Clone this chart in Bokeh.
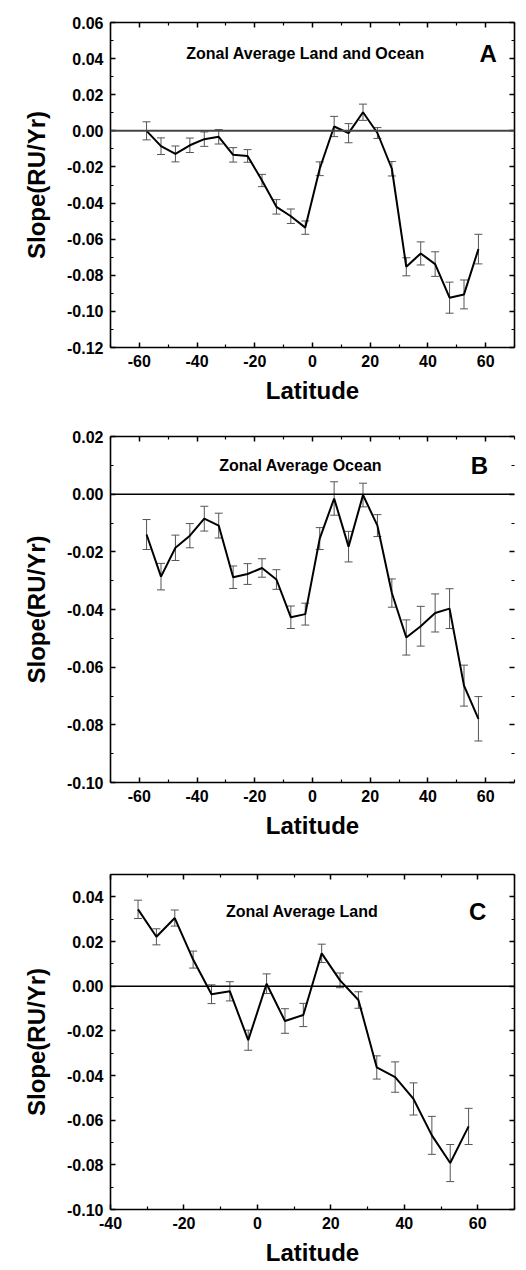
from bokeh.plotting import figure
from bokeh.models import (ColumnDataSource, Whisker, TeeHead, Span, Label,
                          LinearAxis, FixedTicker, NumeralTickFormatter, Range1d)
from bokeh.layouts import column
from bokeh.embed import file_html
from bokeh.resources import INLINE

# ---- data: zonal-mean slope (RU/yr) with its standard error, 5-degree bands ----
lat_all = [-57.5, -52.5, -47.5, -42.5, -37.5, -32.5, -27.5, -22.5, -17.5, -12.5,
           -7.5, -2.5, 2.5, 7.5, 12.5, 17.5, 22.5, 27.5, 32.5, 37.5, 42.5, 47.5,
           52.5, 57.5]

slope_land_ocean = [0.000, -0.0085, -0.0128, -0.0080, -0.0046, -0.0033, -0.0133,
                    -0.0139, -0.0275, -0.0421, -0.0473, -0.0536, -0.0210, 0.0024,
                    -0.0013, 0.0103, -0.0012, -0.0210, -0.0753, -0.0679, -0.0738,
                    -0.0924, -0.0906, -0.0655]
err_land_ocean = [0.0050, 0.0046, 0.0044, 0.0040, 0.0040, 0.0040, 0.0040, 0.0035,
                  0.0034, 0.0040, 0.0040, 0.0037, 0.0038, 0.0056, 0.0053, 0.0045,
                  0.0030, 0.0040, 0.0050, 0.0064, 0.0068, 0.0086, 0.0080, 0.0082]

slope_ocean = [-0.0140, -0.0286, -0.0186, -0.0144, -0.0085, -0.0109, -0.0288, -0.0277,
               -0.0256, -0.0296, -0.0427, -0.0416, -0.0154, -0.0015, -0.0182, -0.0003,
               -0.0109, -0.0343, -0.0497, -0.0458, -0.0412, -0.0397, -0.0664, -0.0779]
err_ocean = [0.0052, 0.0046, 0.0044, 0.0042, 0.0043, 0.0043, 0.0039, 0.0036, 0.0032,
             0.0034, 0.0039, 0.0038, 0.0038, 0.0058, 0.0053, 0.0041, 0.0038, 0.0049,
             0.0061, 0.0069, 0.0066, 0.0069, 0.0071, 0.0077]

lat_land = [-32.5, -27.5, -22.5, -17.5, -12.5, -7.5, -2.5, 2.5, 7.5, 12.5, 17.5,
            22.5, 27.5, 32.5, 37.5, 42.5, 47.5, 52.5, 57.5]
slope_land = [0.0344, 0.0221, 0.0305, 0.0119, -0.0036, -0.0023, -0.0242, 0.0011,
              -0.0156, -0.0129, 0.0147, 0.0026, -0.0062, -0.0364, -0.0407, -0.0505,
              -0.0668, -0.0792, -0.0628]
err_land = [0.0041, 0.0036, 0.0036, 0.0038, 0.0042, 0.0043, 0.0045, 0.0044, 0.0055,
            0.0052, 0.0041, 0.0033, 0.0037, 0.0052, 0.0068, 0.0072, 0.0085, 0.0083,
            0.0081]

# ---- tick positions ----
xticks_wide = [-60, -40, -20, 0, 20, 40, 60]
xminor_wide = [-70, -50, -30, -10, 10, 30, 50, 70]
xticks_land = [-40, -20, 0, 20, 40, 60]
xminor_land = [-30, -10, 10, 30, 50, 70]
yticks_a = [-0.12, -0.10, -0.08, -0.06, -0.04, -0.02, 0.0, 0.02, 0.04, 0.06]
yminor_a = [-0.11, -0.09, -0.07, -0.05, -0.03, -0.01, 0.01, 0.03, 0.05]
yticks_b = [-0.10, -0.08, -0.06, -0.04, -0.02, 0.0, 0.02]
yminor_b = [-0.09, -0.07, -0.05, -0.03, -0.01, 0.01]
yticks_c = [-0.10, -0.08, -0.06, -0.04, -0.02, 0.0, 0.02, 0.04]
yminor_c = [-0.09, -0.07, -0.05, -0.03, -0.01, 0.01, 0.03, 0.05]

FONT = "Liberation Sans"
BAR = "#555555"


def style_axis(ax, major, minor, fmt, labels=True, line=True):
    ax.ticker = FixedTicker(ticks=major, minor_ticks=minor)
    ax.formatter = fmt
    ax.axis_line_width = 1.6
    ax.axis_line_color = "black" if line else None
    ax.major_tick_in = 5
    ax.major_tick_out = 0
    ax.minor_tick_in = 3
    ax.minor_tick_out = 0
    ax.major_tick_line_width = 1.5
    ax.minor_tick_line_width = 1.2
    ax.major_label_text_font = FONT
    ax.major_label_text_font_style = "bold"
    if labels:
        ax.major_label_text_color = "black"
        ax.major_label_text_font_size = "16px"
        ax.major_label_standoff = 7
    else:
        # mirror axis: tick marks only, no numbers
        ax.major_label_text_color = None
        ax.major_label_text_font_size = "1px"
        ax.major_label_standoff = 0


def panel(lat, slope, err, xr, yr, xt, xm, yt, ym, height, borders,
          title, title_xy, letter, letter_xy, zero_color, zero_width,
          right_line=True):
    top, bottom, left, right = borders
    p = figure(width=526, height=height, x_range=Range1d(*xr), y_range=Range1d(*yr),
               output_backend="svg", toolbar_location=None,
               min_border_top=top, min_border_bottom=bottom,
               min_border_left=left, min_border_right=right)
    p.outline_line_color = None
    p.grid.visible = False

    style_axis(p.xaxis[0], xt, xm, NumeralTickFormatter(format="0"))
    style_axis(p.yaxis[0], yt, ym, NumeralTickFormatter(format="0.00"))
    p.xaxis[0].axis_label = "Latitude"
    p.yaxis[0].axis_label = "Slope(RU/Yr)"
    for ax, stand in ((p.xaxis[0], 7), (p.yaxis[0], 14)):
        ax.axis_label_text_font = FONT
        ax.axis_label_text_font_style = "bold"
        ax.axis_label_text_font_size = "24px"
        ax.axis_label_text_color = "black"
        ax.axis_label_standoff = stand

    top_ax = LinearAxis()
    style_axis(top_ax, xt, xm, NumeralTickFormatter(format="0"), labels=False)
    p.add_layout(top_ax, "above")
    right_ax = LinearAxis()
    style_axis(right_ax, yt, ym, NumeralTickFormatter(format="0.00"),
               labels=False, line=right_line)
    p.add_layout(right_ax, "right")

    p.add_layout(Span(location=0, dimension="width",
                      line_color=zero_color, line_width=zero_width))

    src = ColumnDataSource(dict(
        lat=lat, slope=slope,
        upper=[s + e for s, e in zip(slope, err)],
        lower=[s - e for s, e in zip(slope, err)]))
    p.add_layout(Whisker(source=src, base="lat", upper="upper", lower="lower",
                         line_color=BAR, line_width=1,
                         upper_head=TeeHead(size=8, line_color=BAR, line_width=1),
                         lower_head=TeeHead(size=8, line_color=BAR, line_width=1)))
    p.line("lat", "slope", source=src, line_color="black", line_width=2)

    p.add_layout(Label(x=title_xy[0], y=title_xy[1], text=title, text_font=FONT,
                       text_font_style="bold", text_font_size="16px",
                       text_align="center", text_baseline="middle",
                       text_color="black"))
    p.add_layout(Label(x=letter_xy[0], y=letter_xy[1], text=letter, text_font=FONT,
                       text_font_style="bold", text_font_size="24px",
                       text_align="center", text_baseline="middle",
                       text_color="black"))
    return p


pa = panel(lat_all, slope_land_ocean, err_land_ocean, (-70, 70), (-0.12, 0.06),
           xticks_wide, xminor_wide, yticks_a, yminor_a, 420, (22, 73, 110, 12),
           "Zonal Average Land and Ocean", (-2.4, 0.0429), "A", (60.9, 0.0429),
           "#444444", 2)
pb = panel(lat_all, slope_ocean, err_ocean, (-70, 70), (-0.10, 0.02),
           xticks_wide, xminor_wide, yticks_b, yminor_b, 425, (16, 63, 100, 0),
           "Zonal Average Ocean", (-4.1, 0.010), "B", (57.8, 0.010),
           "black", 1.5, right_line=False)
pc = panel(lat_land, slope_land, err_land, (-40, 70), (-0.10, 0.05),
           xticks_land, xminor_land, yticks_c, yminor_c, 425, (29, 61, 110, 3),
           "Zonal Average Land", (12.2, 0.0333), "C", (60.0, 0.0333),
           "black", 1.5)

layout = column(pa, pb, pc)
open("out.html", "w").write(file_html(layout, INLINE))
